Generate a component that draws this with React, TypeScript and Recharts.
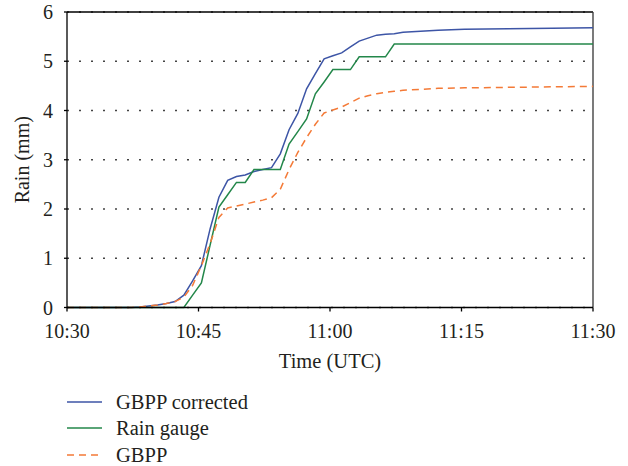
import {
  CartesianGrid,
  Legend,
  Line,
  LineChart,
  ReferenceLine,
  XAxis,
  YAxis,
} from "recharts";

// minutes after 10:30 UTC
const times = [
  0, 7.33, 8.33, 9.33, 10.33, 11.33, 12.33, 13.33, 14.33, 15.33, 16.33, 17.33, 18.33, 19.33, 20.33,
  21.33, 22.33, 23.33, 24.33, 25.33, 26.33, 27.33, 28.33, 29.33, 30.33, 31.33, 32.33, 33.33, 34.33,
  35.33, 36.33, 37.33, 38.33, 39.33, 40.33, 42.33, 45.33, 50.33, 55.33, 60,
];

const gbppCorrected = [
  0, 0, 0.01, 0.03, 0.05, 0.08, 0.12, 0.25, 0.54, 0.85, 1.6, 2.24, 2.58, 2.66, 2.69,
  2.76, 2.8, 2.84, 3.12, 3.61, 3.94, 4.44, 4.75, 5.05, 5.11, 5.17, 5.29, 5.41, 5.47,
  5.53, 5.55, 5.56, 5.59, 5.6, 5.61, 5.63, 5.65, 5.66, 5.67, 5.68,
];

const rainGauge = [
  0, 0, 0, 0, 0, 0, 0, 0, 0.25, 0.5, 1.27, 2.04, 2.29, 2.54, 2.54,
  2.8, 2.8, 2.8, 2.8, 3.32, 3.57, 3.83, 4.34, 4.58, 4.83, 4.83, 4.83, 5.09, 5.09,
  5.09, 5.09, 5.35, 5.35, 5.35, 5.35, 5.35, 5.35, 5.35, 5.35, 5.35,
];

const gbpp = [
  0, 0, 0.01, 0.03, 0.05, 0.08, 0.12, 0.21, 0.45, 0.85, 1.3, 1.83, 2.02, 2.06, 2.1,
  2.14, 2.18, 2.23, 2.4, 2.8, 3.15, 3.45, 3.72, 3.95, 4.01, 4.07, 4.16, 4.25, 4.3,
  4.34, 4.37, 4.39, 4.41, 4.42, 4.43, 4.45, 4.46, 4.47, 4.48, 4.49,
];

const xTicks = [0, 15, 30, 45, 60];
const xTickLabels = ["10:30", "10:45", "11:00", "11:15", "11:30"];
const yTicks = [0, 1, 2, 3, 4, 5, 6];

const series = [
  { key: "corrected", name: "GBPP corrected", color: "#3d55a6", dash: undefined },
  { key: "gauge", name: "Rain gauge", color: "#23874a", dash: undefined },
  { key: "gbpp", name: "GBPP", color: "#f47a37", dash: "7 5" },
];

const data = times.map((t, i) => ({
  t,
  corrected: gbppCorrected[i],
  gauge: rainGauge[i],
  gbpp: gbpp[i],
}));

const FONT = "Liberation Serif, DejaVu Serif, serif";
const INK = "#231f20";
const tickStyle = { fontFamily: FONT, fontSize: 20, fill: INK };

function LegendBox() {
  return (
    <div style={{ fontFamily: FONT, fontSize: 20.5, color: INK }}>
      {series.map((s) => (
        <div key={s.key} style={{ display: "flex", alignItems: "center", height: 26.5 }}>
          <svg width={35} height={4} style={{ display: "block" }}>
            <line x1={0} y1={2} x2={35} y2={2} stroke={s.color} strokeWidth={1.5} strokeDasharray={s.dash} />
          </svg>
          <span style={{ marginLeft: 14, lineHeight: "26.5px" }}>{s.name}</span>
        </div>
      ))}
    </div>
  );
}

export default function App() {
  return (
    <div style={{ position: "absolute", left: 0, top: 0, background: "#fff", fontFamily: FONT }}>
      <LineChart width={628} height={466} data={data} margin={{ top: 12, right: 35, bottom: 0, left: 0 }}>
        <CartesianGrid
          vertical={false}
          stroke="#444"
          strokeWidth={1.5}
          strokeDasharray="2 10"
        />
        <XAxis
          dataKey="t"
          type="number"
          domain={[0, 60]}
          ticks={xTicks}
          tickFormatter={(v: number) => xTickLabels[xTicks.indexOf(v)]}
          height={79}
          stroke="#000"
          strokeWidth={1.3}
          tickSize={4}
          tickMargin={12}
          tick={tickStyle}
          label={{
            value: "Time (UTC)",
            position: "insideBottom",
            offset: 18.5,
            style: { fontFamily: FONT, fontSize: 20.5, fill: INK },
          }}
        />
        <YAxis
          type="number"
          domain={[0, 6]}
          ticks={yTicks}
          width={67}
          stroke="#000"
          strokeWidth={1.3}
          tickSize={3}
          tickMargin={11}
          tick={tickStyle}
          label={{
            content: (props: any) => {
              const vb = props.viewBox || { x: 0, y: 0, height: 0 };
              const cx = vb.x + 22;
              const cy = vb.y + vb.height / 2;
              return (
                <text
                  x={cx}
                  y={cy}
                  transform={`rotate(-90, ${cx}, ${cy})`}
                  textAnchor="middle"
                  dominantBaseline="central"
                  style={{ fontFamily: FONT, fontSize: 20, fill: INK }}
                >
                  Rain (mm)
                </text>
              );
            },
          }}
        />
        <ReferenceLine y={6} stroke="#000" strokeWidth={1.3} />
        <ReferenceLine x={60} stroke="#333" strokeWidth={1.3} />
        {series.map((s) => (
          <Line
            key={s.key}
            dataKey={s.key}
            name={s.name}
            type="linear"
            stroke={s.color}
            strokeWidth={1.5}
            strokeDasharray={s.dash}
            dot={false}
            activeDot={false}
            isAnimationActive={false}
          />
        ))}
        <Legend
          verticalAlign="bottom"
          align="left"
          content={() => <LegendBox />}
          wrapperStyle={{ left: 67, bottom: -2, width: 300 }}
        />
      </LineChart>
    </div>
  );
}
